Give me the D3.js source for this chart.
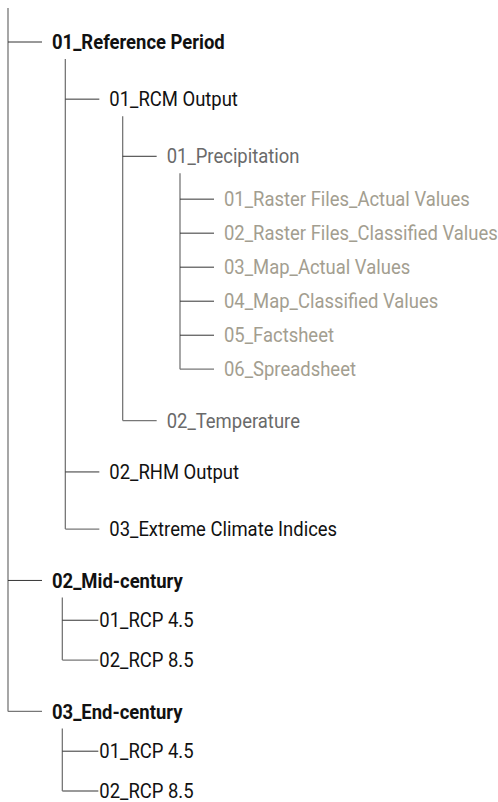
<!DOCTYPE html>
<html lang="en">
<head>
    <meta charset="UTF-8">
    <title>Folder structure</title>
    <script src="https://cdn.jsdelivr.net/npm/d3@7"></script>
    <style>
        body { margin: 0; background: #fff; }
        svg text { font-family: Roboto, "Noto Sans", sans-serif; }
    </style>
</head>
<body>
    <script>
        // folder names, one list per branch
        const periods = ['01_Reference Period', '02_Mid-century', '03_End-century']
        const referenceOutputs = ['01_RCM Output', '02_RHM Output', '03_Extreme Climate Indices']
        const rcmVariables = ['01_Precipitation', '02_Temperature']
        const precipitationProducts = [
            '01_Raster Files_Actual Values',
            '02_Raster Files_Classified Values',
            '03_Map_Actual Values',
            '04_Map_Classified Values',
            '05_Factsheet',
            '06_Spreadsheet'
        ]
        const scenarios = ['01_RCP 4.5', '02_RCP 8.5']

        const width = 498
        const height = 802

        // build the nested tree from the lists
        const leaf = (name) => ({ name })
        const treeData = {
            name: 'root',
            children: periods.map((p, i) => {
                if (i === 0) {
                    return {
                        name: p,
                        children: referenceOutputs.map((o, j) => {
                            if (j === 0) {
                                return {
                                    name: o,
                                    children: rcmVariables.map((v, k) => k === 0
                                        ? { name: v, children: precipitationProducts.map(leaf) }
                                        : leaf(v))
                                }
                            }
                            return leaf(o)
                        })
                    }
                }
                return { name: p, compact: true, children: scenarios.map(leaf) }
            })
        }

        const root = d3.hierarchy(treeData)

        // vertical spacing: each row gets a weight, the scale maps the running sum to pixels
        let units = 0
        let prevDepth = 0
        const rows = []
        root.eachBefore((d) => {
            if (d.depth === 0) return
            let step
            if (rows.length === 0) step = 0
            else if (d.depth === 4) step = d.parent.children[0] === d ? 1.26 : 1
            else if (d.parent.data.compact) step = 1.17
            else step = prevDepth > d.depth ? 1.51 : 1.68
            units += step
            d.unit = units
            prevDepth = d.depth
            rows.push(d)
        })

        const y = d3.scaleLinear().domain([0, units]).range([42, 791])
        const x = d3.scaleLinear().domain([0, 3]).range([8, 180])

        const svg = d3.select('body')
            .append('svg')
            .attr('width', width)
            .attr('height', height)

        const lines = svg.append('g')
        const labels = svg.append('g')

        const colours = ['#111', '#111', '#111', '#6a6a6a', '#a39e90']

        // trunk + connectors for every parent
        root.each((d) => {
            if (!d.children) return
            const vx = d.data.compact ? x(d.depth) - 3 : x(d.depth)
            const top = d.depth === 0 ? 8 : y(d.unit) + 17
            const last = d.children[d.children.length - 1]
            lines.append('line')
                .attr('x1', vx).attr('x2', vx)
                .attr('y1', top).attr('y2', y(last.unit))
                .attr('stroke', '#777')
                .attr('stroke-width', 1.3)

            d.children.forEach((c) => {
                const end = d.data.compact ? vx + 36 : vx + 34
                lines.append('line')
                    .attr('x1', vx).attr('x2', end)
                    .attr('y1', y(c.unit)).attr('y2', y(c.unit))
                    .attr('stroke', c === last ? '#777' : '#333')
                    .attr('stroke-width', c === last ? 1.3 : 1)
                c.textX = d.data.compact ? end + 1 : end + 10
            })
        })

        labels.selectAll('text')
            .data(rows)
            .enter()
            .append('text')
            .attr('x', (d) => d.textX)
            .attr('y', (d) => y(d.unit))
            .attr('dy', '0.35em')
            .attr('font-size', 20.5)
            .attr('font-weight', (d) => d.depth === 1 ? 700 : 400)
            .attr('fill', (d) => colours[d.depth])
            .attr('transform', (d) => `translate(${d.textX},0) scale(0.9,1) translate(${-d.textX},0)`)
            .text((d) => d.data.name)
    </script>
</body>
</html>
